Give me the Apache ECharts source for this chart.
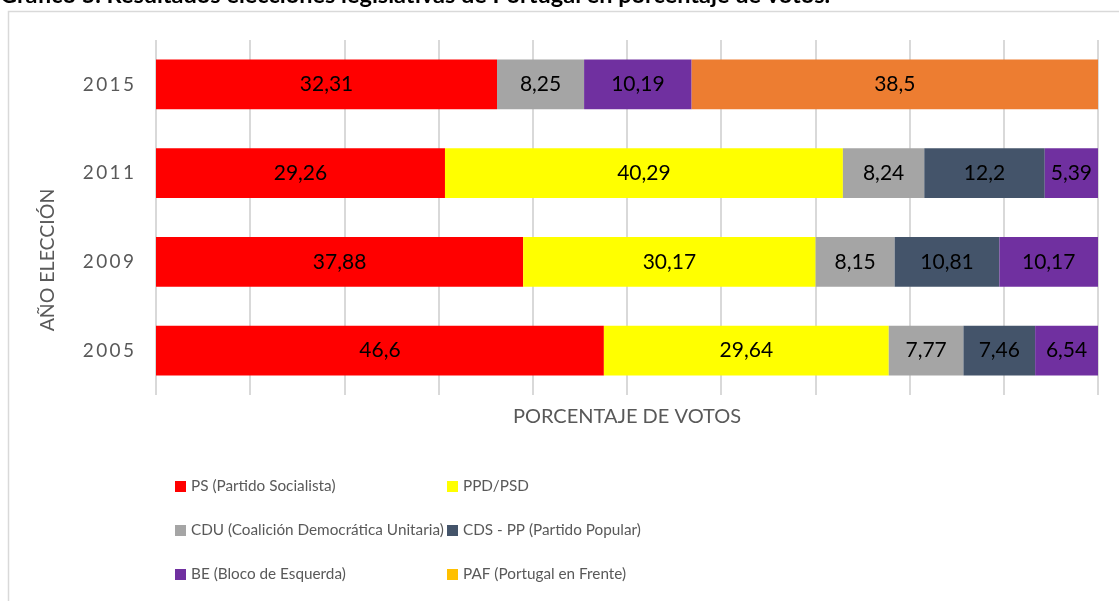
<!DOCTYPE html>
<html>
<head>
<meta charset="utf-8">
<script src="https://cdn.jsdelivr.net/npm/echarts@6/dist/echarts.min.js"></script>
<style>
  html, body { margin: 0; padding: 0; background: #fff; }
  #chart { width: 1119px; height: 601px; }
</style>
</head>
<body>
<div id="chart"></div>
<script>
// años (de abajo hacia arriba)
var years = ['2005', '2009', '2011', '2015'];
// votos por partido, mismo orden que years
var ps    = [46.6, 37.88, 29.26, 32.31];
var ppd   = [29.64, 30.17, 40.29, null];
var cdu   = [7.77, 8.15, 8.24, 8.25];
var cds   = [7.46, 10.81, 12.2, null];
var be    = [6.54, 10.17, 5.39, 10.19];
var paf   = [null, null, null, 38.5];
var xTicks = [0, 10, 20, 30, 40, 50, 60, 70, 80, 90, 100];

var FONT = 'Lato';
var GREY = '#595959';

// totales por año para el apilado al 100%
var totals = years.map(function(y, i){
  var s = 0;
  [ps, ppd, cdu, cds, be, paf].forEach(function(a){ if(a[i]!=null) s += a[i]; });
  return s;
});

function toPct(arr, extra){
  return arr.map(function(v, i){
    if(v==null) return null;
    var item = { value: v / totals[i] * 100, raw: v };
    if(extra && extra[i]) item.itemStyle = extra[i];
    return item;
  });
}

function mkSeries(name, arr, color, extra){
  return {
    name: name,
    type: 'bar',
    stack: 'total',
    barCategoryGap: '44%',
    data: toPct(arr, extra),
    itemStyle: { color: color },
    label: {
      show: true,
      position: 'inside',
      color: '#000',
      fontFamily: FONT,
      fontSize: 21,
      formatter: function(p){ return String(p.data.raw).replace('.', ','); }
    }
  };
}

var myChart = echarts.init(document.getElementById('chart'));
var legendText = { color: GREY, fontFamily: FONT, fontSize: 15.3 };
var option = {
  animation: false,
  grid: { left: 156, right: 21, top: 40, bottom: 206 },
  xAxis: {
    type: 'value',
    min: xTicks[0],
    max: xTicks[xTicks.length - 1],
    interval: xTicks[1] - xTicks[0],
    axisLabel: { show: false },
    axisLine: { show: false },
    axisTick: { show: false },
    splitLine: { show: true, lineStyle: { color: '#D9D9D9', width: 2 } },
    name: 'PORCENTAJE DE VOTOS',
    nameLocation: 'middle',
    nameGap: 12,
    nameTextStyle: { color: GREY, fontFamily: FONT, fontSize: 20 }
  },
  yAxis: {
    type: 'category',
    data: years,
    axisLine: { show: false },
    axisTick: { show: false },
    axisLabel: {
      color: GREY,
      fontFamily: FONT,
      fontSize: 19,
      margin: 22,
      formatter: function(v){ return v.split('').join('\u2009'); }
    }
  },
  legend: [
    {
      left: 175, top: 479, orient: 'vertical', itemGap: 29, padding: 0,
      itemWidth: 11, itemHeight: 11, icon: 'rect',
      textStyle: legendText,
      data: ['PS (Partido Socialista)', 'CDU (Coalición Democrática Unitaria)', 'BE (Bloco de Esquerda)']
    },
    {
      left: 447, top: 479, orient: 'vertical', itemGap: 29, padding: 0,
      itemWidth: 11, itemHeight: 11, icon: 'rect',
      textStyle: legendText,
      data: ['PPD/PSD', 'CDS - PP (Partido Popular)', 'PAF (Portugal en Frente)']
    }
  ],
  graphic: [
    {
      type: 'rect',
      shape: { x: 8.5, y: 11.5, width: 1130, height: 620 },
      style: { fill: 'none', stroke: '#D9D9D9', lineWidth: 1.5 },
      silent: true
    },
    {
      type: 'text',
      left: 0, top: -17,
      style: {
        text: 'Gráfico 5. Resultados elecciones legislativas de Portugal en porcentaje de votos.',
        fill: '#000', font: 'bold 23.5px Lato'
      }
    },
    {
      type: 'text',
      x: 48, y: 260, rotation: Math.PI / 2,
      style: {
        text: 'AÑO ELECCIÓN',
        fill: GREY, font: '19.5px Lato',
        align: 'center', verticalAlign: 'middle'
      }
    }
  ],
  series: [
    mkSeries('PS (Partido Socialista)', ps, '#FF0000'),
    mkSeries('PPD/PSD', ppd, '#FFFF00'),
    mkSeries('CDU (Coalición Democrática Unitaria)', cdu, '#A5A5A5'),
    mkSeries('CDS - PP (Partido Popular)', cds, '#44546A'),
    mkSeries('BE (Bloco de Esquerda)', be, '#7030A0'),
    mkSeries('PAF (Portugal en Frente)', paf, '#FFC000', [null, null, null, { color: '#ED7D31' }])
  ]
};
myChart.setOption(option);
</script>
</body>
</html>
